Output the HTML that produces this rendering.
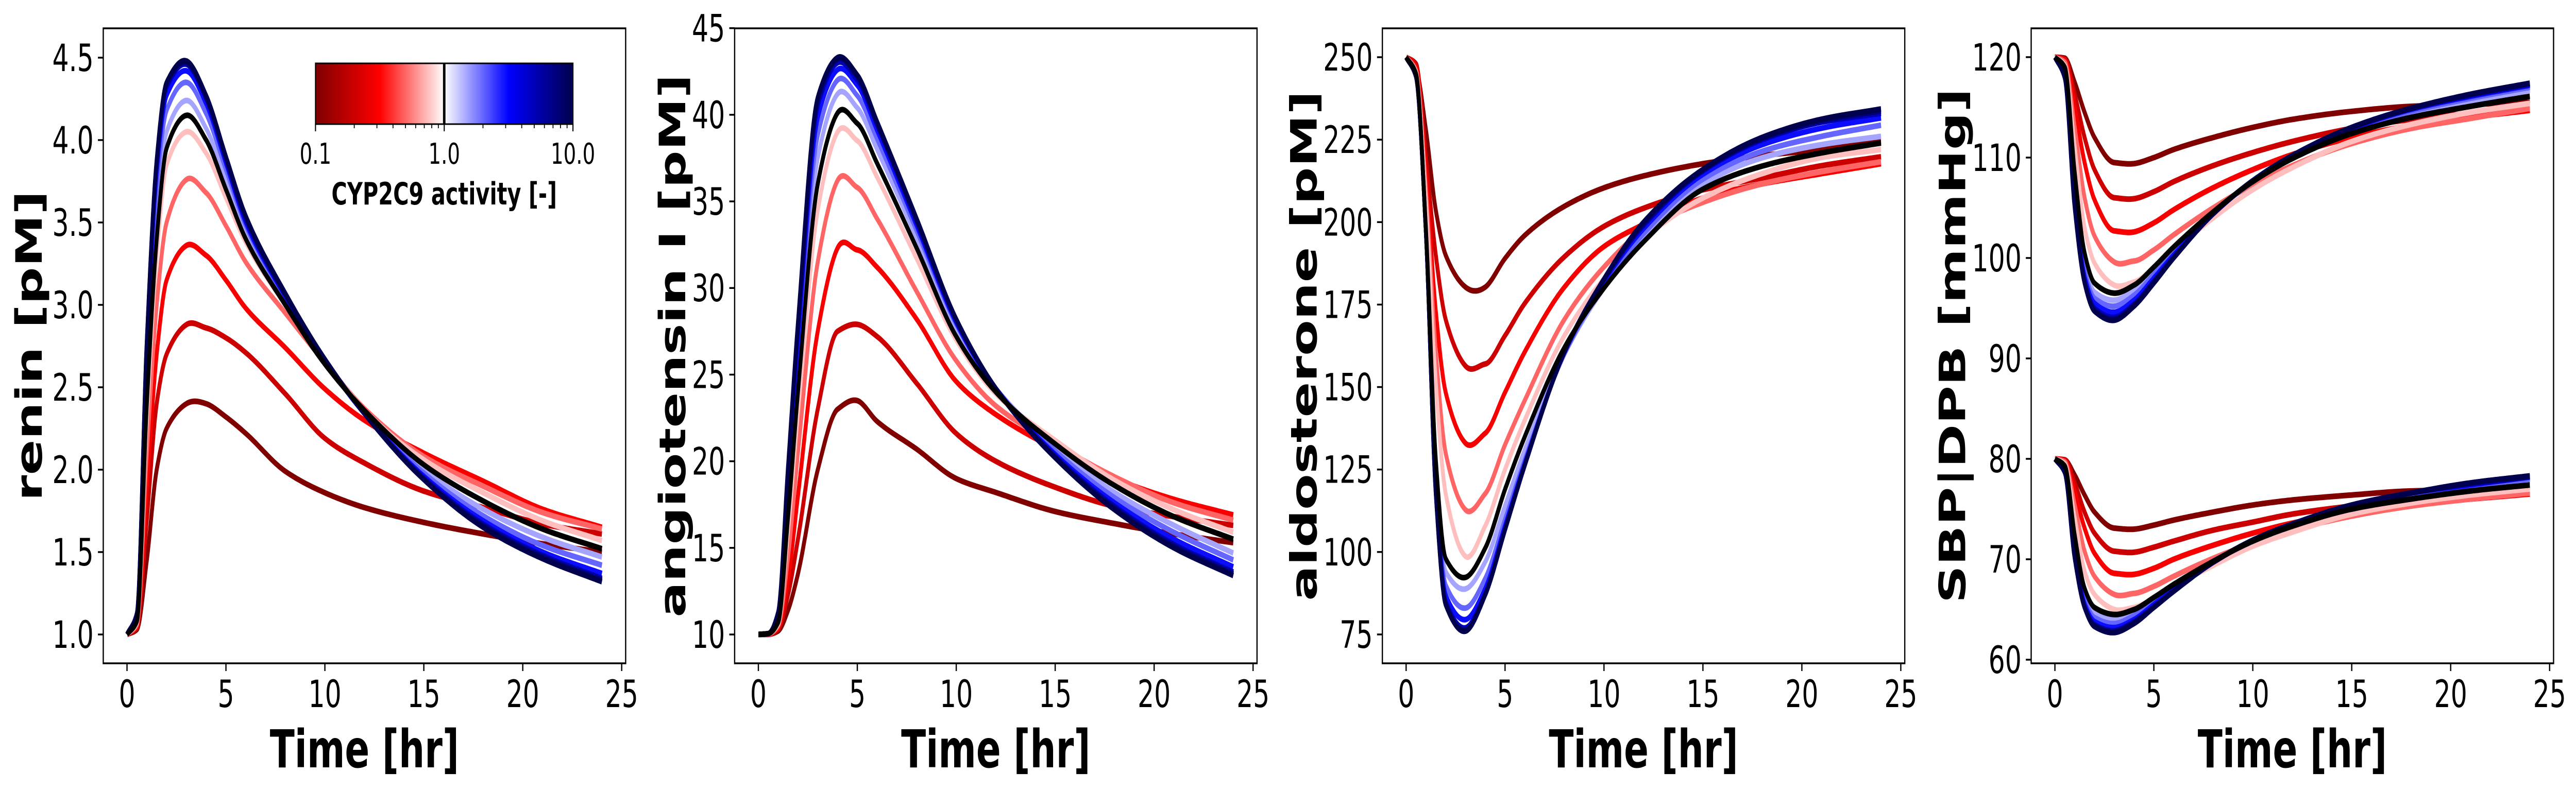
<!DOCTYPE html>
<html><head><meta charset="utf-8"><style>
html,body{margin:0;padding:0;background:#fff;overflow:hidden;width:100%;height:100%;}
svg{display:block;font-family:"DejaVu Sans","Liberation Sans",sans-serif;width:100vw;height:100vh;}
</style></head><body>
<svg id="fig" viewBox="0 0 7234 1534" preserveAspectRatio="none" xmlns="http://www.w3.org/2000/svg">
<defs>
<linearGradient id="cbgrad" x1="0" x2="1" y1="0" y2="0">
<stop offset="0" stop-color="#800000"/><stop offset="0.25" stop-color="#ff0000"/><stop offset="0.5" stop-color="#ffffff"/><stop offset="0.75" stop-color="#0000ff"/><stop offset="1" stop-color="#00004d"/>
</linearGradient>
</defs>
</svg>
<script>
// ---- data ----
const times = [0,0.5,1,1.5,2,3,4,5,6,8,10,12,15,18,21,24];
const activities = [0.1,0.2,0.3,0.5,0.75,1.5,2,3,5,7.5,10,1];
const reninValues = [
[1,1.03,1.45,2.0,2.25,2.40,2.40,2.32,2.22,1.99,1.86,1.77,1.68,1.61,1.55,1.50],
[1,1.04,1.7,2.4,2.7,2.88,2.86,2.8,2.71,2.46,2.19,2.04,1.87,1.77,1.67,1.61],
[1,1.05,1.9,2.7,3.15,3.36,3.3,3.15,2.98,2.74,2.49,2.3,2.1,1.93,1.76,1.65],
[1,1.06,2.1,3.0,3.5,3.76,3.68,3.48,3.26,2.95,2.65,2.37,2.08,1.9,1.74,1.64],
[1,1.07,2.3,3.3,3.85,4.05,3.92,3.65,3.38,3.0,2.66,2.36,2.06,1.86,1.69,1.57],
[1,1.09,2.5,3.55,4.05,4.24,4.07,3.76,3.44,3.02,2.65,2.35,2.0,1.76,1.59,1.47],
[1,1.1,2.6,3.7,4.18,4.35,4.16,3.82,3.48,3.04,2.66,2.35,1.98,1.72,1.54,1.42],
[1,1.11,2.7,3.8,4.27,4.42,4.22,3.86,3.5,3.05,2.66,2.34,1.96,1.69,1.5,1.37],
[1,1.12,2.75,3.85,4.32,4.46,4.25,3.88,3.52,3.06,2.67,2.34,1.95,1.67,1.48,1.34],
[1,1.12,2.77,3.87,4.34,4.47,4.26,3.89,3.53,3.06,2.67,2.34,1.94,1.66,1.47,1.33],
[1,1.13,2.78,3.88,4.35,4.48,4.27,3.9,3.54,3.07,2.67,2.34,1.94,1.65,1.46,1.32],
[1,1.08,2.4,3.4,3.95,4.15,4.0,3.7,3.4,3.0,2.64,2.36,2.03,1.81,1.64,1.52]
];
const angValues = [
[10,10.01,10.2,11.4,13.5,19.5,23,23.5,22.3,20.7,19.0,18.2,17.1,16.4,15.8,15.3],
[10,10.01,10.3,12.3,15.5,23,27.5,27.9,27.2,24.5,21.6,20,18.5,17.4,16.8,16.3],
[10,10.02,10.4,13.2,18,27.5,32.3,32.2,31.2,28.2,24.6,22.7,20.7,19.0,17.8,16.9],
[10,10.03,10.5,14.5,20.5,31.5,36.2,35.8,34,29.8,25.8,23.2,21,19.1,17.6,16.6],
[10,10.05,10.6,16,22.8,34.5,39,38.5,36.4,31.7,27,23.9,21.2,18.9,17.2,15.9],
[10,10.05,10.8,17.5,25,37.5,41.2,40.4,38,32.9,27.7,24.2,20.8,18.2,16.3,14.7],
[10,10.05,10.9,18.2,26,38.8,42,41.1,38.6,33.3,27.9,24.2,20.6,17.9,15.9,14.3],
[10,10.05,11,18.8,26.8,39.8,42.6,41.7,39.1,33.6,28,24.2,20.4,17.6,15.5,13.9],
[10,10.05,11.1,19.3,27.5,40.5,43,42,39.4,33.8,28.1,24.2,20.3,17.4,15.2,13.6],
[10,10.05,11.2,19.5,27.8,40.8,43.2,42.2,39.5,33.9,28.2,24.2,20.2,17.3,15.1,13.5],
[10,10.05,11.3,19.7,28,41,43.3,42.3,39.6,34,28.2,24.2,20.2,17.2,15,13.4],
[10,10.05,10.7,16.8,24,36,40.1,39.5,37.2,32.3,27.2,24,21,18.6,16.8,15.5]
];
const aldoValues = [
[250,246.6,228,203.6,190,180.3,180.3,189,196,204.8,210.4,214,217.7,220.2,222,224.5],
[250,248,219.6,190,170.5,156.4,157,165.6,175.4,189.5,198.7,204.2,209.8,213.4,217.1,219.8],
[250,247,214.7,173,148.4,133,136,148.4,160.7,180.3,192.6,199.3,207.3,211.6,214.7,217.7],
[250,246,209.8,160.7,130,112.8,117.7,132.5,146,170.5,186.4,197.5,206,211.6,215.3,218.3],
[250,245.5,206,150.9,117.7,98.7,107.9,125,140,165.6,182.8,195,207.3,214.7,219.6,222],
[250,245,197,125,94,88.8,97,114,131,160,180,195,211.5,219.5,223.5,226],
[250,244.7,197,122,90,83,92,110,128,160,181,196.5,213,221.5,226,229.4],
[250,244.5,197,120,87,79.5,89,108,127,160.5,182,198,214.5,223.5,228.5,231.6],
[250,244.2,197,118.5,85,77,87.5,107,126.5,160.5,182.5,199,215.5,225,230.3,233],
[250,244.1,197,118,84.5,76.3,87.2,106.8,126.4,160.6,182.7,199.5,215.8,225.4,230.8,233.7],
[250,244,197,117.7,84,76,87,106.7,126.3,160.7,182.8,200,216,225.7,231.2,234.3],
[250,245,198,128,98,92.3,101.2,119,135,162,180,194,210,217,221,224]
];
const sbpValues = [
[120,119.9,117.5,114.5,112,109.5,109.4,110,110.8,112,113,113.8,114.6,115.1,115.3,115.5],
[120,119.8,116.3,112,108.8,106,105.9,106.6,107.6,109.2,110.5,111.6,112.9,113.8,114.4,114.9],
[120,119.7,115,109.5,105.8,102.7,102.6,103.5,104.8,107,108.8,110.3,112,113.2,114,114.7],
[120,119.5,113,106,102.2,99.6,99.7,100.8,102.3,105,107.3,109.2,111.4,112.9,113.9,114.9],
[120,119.2,111,103,99.5,97.3,97.6,99,100.7,104,106.8,109,111.6,113.3,114.5,115.4],
[120,118.8,107.5,99.5,96.6,95.8,96.8,98.7,100.8,104.5,107.6,110,112.6,114.4,115.6,116.7],
[120,118.6,106.7,98.8,96,95.2,96.3,98.4,100.6,104.5,107.6,110.1,112.8,114.6,115.9,117],
[120,118.4,106,98.2,95.5,94.6,95.8,98,100.3,104.4,107.7,110.2,112.9,114.8,116.1,117.2],
[120,118.2,105.4,97.8,95,94.1,95.4,97.7,100.1,104.4,107.7,110.2,113,114.9,116.2,117.3],
[120,118,105.2,97.6,94.8,93.9,95.3,97.6,100,104.4,107.7,110.2,113,114.9,116.3,117.4],
[120,117.9,105,97.5,94.7,93.8,95.2,97.5,100,104.4,107.7,110.2,113,114.9,116.3,117.4],
[120,119,108.5,100.5,97.5,96.5,97.3,99.1,101.1,104.6,107.6,109.9,112.4,114,115.1,116.1]
];
const dbpValues = [
[80,79.9,78.4,76.4,74.7,73.1,73,73.4,73.9,74.7,75.4,75.9,76.4,76.8,76.9,77.0],
[80,79.9,77.6,74.7,72.6,70.8,70.7,71.2,71.8,72.9,73.7,74.5,75.3,75.9,76.3,76.6],
[80,79.8,76.7,73.1,70.6,68.6,68.5,69.1,70,71.4,72.6,73.6,74.7,75.5,76,76.5],
[80,79.7,75.4,70.8,68.3,66.5,66.6,67.3,68.3,70.1,71.6,72.9,74.3,75.3,76,76.6],
[80,79.5,74.1,68.8,66.5,65,65.2,66.1,67.3,69.4,71.3,72.7,74.5,75.6,76.4,77],
[80,79.2,71.8,66.5,64.6,64,64.7,65.9,67.3,69.8,71.8,73.4,75.1,76.3,77.1,77.8],
[80,79.1,71.2,66,64.2,63.6,64.4,65.7,67.2,69.8,71.8,73.5,75.3,76.4,77.3,78],
[80,78.9,70.8,65.6,63.8,63.2,64,65.5,67,69.7,71.9,73.5,75.3,76.6,77.4,78.2],
[80,78.8,70.4,65.3,63.5,62.9,63.8,65.3,66.9,69.7,71.9,73.5,75.4,76.6,77.5,78.2],
[80,78.7,70.2,65.2,63.4,62.8,63.7,65.2,66.8,69.7,71.9,73.5,75.4,76.6,77.6,78.3],
[80,78.6,70.1,65.2,63.3,62.7,63.6,65.2,66.8,69.7,71.9,73.5,75.4,76.6,77.6,78.3],
[80,79.3,72.4,67.1,65.2,64.5,65,66.2,67.5,69.8,71.8,73.3,75,76,76.8,77.4]
];
const xTicks = [0,5,10,15,20,25];
const reninTicks = [1.0,1.5,2.0,2.5,3.0,3.5,4.0,4.5];
const angTicks = [10,15,20,25,30,35,40,45];
const aldoTicks = [75,100,125,150,175,200,225,250];
const bpTicks = [60,70,80,90,100,110,120];
const cbTicks = [0.1,1.0,10.0];
const cbMinor = [0.2,0.3,0.4,0.5,0.6,0.7,0.8,0.9,2,3,4,5,6,7,8,9];

const NS = "http://www.w3.org/2000/svg";
const svg = document.getElementById('fig');
function mk(tag, attrs, parent){const e=document.createElementNS(NS,tag);for(const k in attrs)e.setAttribute(k,attrs[k]);(parent||svg).appendChild(e);return e;}

function seismicR(a){
  let p = 1-(Math.log10(a)+1)/2;
  const st=[[0,[0,0,0.3]],[0.25,[0,0,1]],[0.5,[1,1,1]],[0.75,[1,0,0]],[1,[0.5,0,0]]];
  for(let i=0;i<4;i++){ if(p<=st[i+1][0]){const f=(p-st[i][0])/0.25;const c=st[i][1].map((v,j)=>Math.round(255*(v+(st[i+1][1][j]-v)*f)));return `rgb(${c.join(',')})`;}}
  return 'rgb(128,0,0)';
}
function smooth(xs, ys){
  const n=xs.length, d=[], m=new Array(n);
  for(let i=0;i<n-1;i++) d.push((ys[i+1]-ys[i])/(xs[i+1]-xs[i]));
  m[0]=d[0]; m[n-1]=d[n-2];
  for(let i=1;i<n-1;i++){
    const h0=xs[i]-xs[i-1], h1=xs[i+1]-xs[i];
    if(d[i-1]*d[i]>0){ const w1=2*h1+h0, w2=h1+2*h0; m[i]=(w1+w2)/(w1/d[i-1]+w2/d[i]); }
    else { m[i]=(h1*d[i-1]+h0*d[i])/(h0+h1); }
  }
  const out=[];
  for(let i=0;i<n-1;i++){ const h=xs[i+1]-xs[i]; const N=24;
    for(let k=(i===0?0:1);k<=N;k++){ const t=k/N, t2=t*t, t3=t2*t;
      const y=(2*t3-3*t2+1)*ys[i]+(t3-2*t2+t)*h*m[i]+(-2*t3+3*t2)*ys[i+1]+(t3-t2)*h*m[i+1];
      out.push([xs[i]+t*h,y]); } }
  return out;
}

const axTop=55, axBottom=1288, W=1467;
const panels = [
  {name:'renin', left:290, ymin:0.825, ymax:4.678, ticks:reninTicks, fmt:v=>v.toFixed(1), label:'renin [pM]', labelX:81, series:[reninValues]},
  {name:'angiotensin', left:2063, ymin:8.336, ymax:44.99, ticks:angTicks, fmt:v=>String(v), label:'angiotensin I [pM]', labelX:1888, series:[angValues]},
  {name:'aldosterone', left:3882, ymin:66.25, ymax:258.75, ticks:aldoTicks, fmt:v=>String(v), label:'aldosterone [pM]', labelX:3661, series:[aldoValues]},
  {name:'blood-pressure', left:5704, ymin:59.64, ymax:122.87, ticks:bpTicks, fmt:v=>String(v), label:'SBP|DPB [mmHg]', labelX:5483, series:[sbpValues,dbpValues]}
];

panels.forEach((P,pi)=>{
  const g = mk('g',{});
  
  
  const xs = t => P.left + (t+1.2)/26.4*W;
  const ys = v => axBottom - (v-P.ymin)/(P.ymax-P.ymin)*(axBottom-axTop);
  const cid='clip'+pi;
  const cp=mk('clipPath',{id:cid},g); mk('rect',{x:P.left,y:axTop,width:W,height:axBottom-axTop},cp);
  const lines = mk('g',{'clip-path':`url(#${cid})`},g);
  
  
  P.series.forEach((arr,si)=>{
    arr.forEach((vals,k)=>{
      const a = activities[k];
      const pts = smooth(times, vals);
      const dstr = pts.map((p,i)=>(i?'L':'M')+xs(p[0]).toFixed(1)+' '+ys(p[1]).toFixed(1)).join('');
      const col = a===1 ? '#000000' : seismicR(a);
      const path = mk('path',{d:dstr,fill:'none',stroke:col,'stroke-width':11,'stroke-linejoin':'round'},lines);
      
      
    });
  });
  const fr = mk('rect',{x:P.left,y:axTop,width:W,height:axBottom-axTop,fill:'none',stroke:'#000','stroke-width':3.5},g);
  
  
  xTicks.forEach(t=>{
    const x=xs(t);
    mk('line',{x1:x,x2:x,y1:axBottom,y2:axBottom+15,stroke:'#000','stroke-width':3.5},g);
    const tx=mk('text',{x:x,y:1373,'font-size':73,'text-anchor':'middle'},g);
    tx.textContent=String(t);
    
    
  });
  P.ticks.forEach(v=>{
    const y=ys(v);
    mk('line',{x1:P.left-15,x2:P.left,y1:y,y2:y,stroke:'#000','stroke-width':3.5},g);
    const ty=mk('text',{x:P.left-27,y:y+26,'font-size':73,'text-anchor':'end'},g);
    ty.textContent=P.fmt(v);
    
    
  });
  const xl=mk('text',{x:P.left+W/2,y:1490,'font-size':102,'font-weight':'bold','text-anchor':'middle'},g);
  xl.textContent='Time [hr]';
  
  
  const yl=mk('text',{x:0,y:0,'font-size':102,'font-weight':'bold','text-anchor':'middle',transform:`translate(${P.labelX+36},${(axTop+axBottom)/2}) rotate(-90)`},g);
  yl.textContent=P.label;
  
  
});

const cb = mk('g',{});


const cbL=886, cbR=1609, cbT=123, cbB=241;
const cx = a => cbL + (Math.log10(a)+1)/2*(cbR-cbL);
const cbr = mk('rect',{x:cbL,y:cbT,width:cbR-cbL,height:cbB-cbT,fill:'url(#cbgrad)',stroke:'#000','stroke-width':3},cb);


mk('line',{x1:cx(1),x2:cx(1),y1:cbT,y2:cbB,stroke:'#000','stroke-width':7},cb);
cbMinor.forEach(a=>{ mk('line',{x1:cx(a),x2:cx(a),y1:cbB,y2:cbB+8,stroke:'#000','stroke-width':2.5},cb); });
cbTicks.forEach(a=>{
  mk('line',{x1:cx(a),x2:cx(a),y1:cbB,y2:cbB+14,stroke:'#000','stroke-width':3},cb);
  const t=mk('text',{x:cx(a),y:318,'font-size':56,'text-anchor':'middle'},cb);
  t.textContent=a.toFixed(1);
  
  
});
const cbl=mk('text',{x:(cbL+cbR)/2,y:397,'font-size':60,'font-weight':'bold','text-anchor':'middle'},cb);
cbl.textContent='CYP2C9 activity [-]';


</script>
</body></html>
